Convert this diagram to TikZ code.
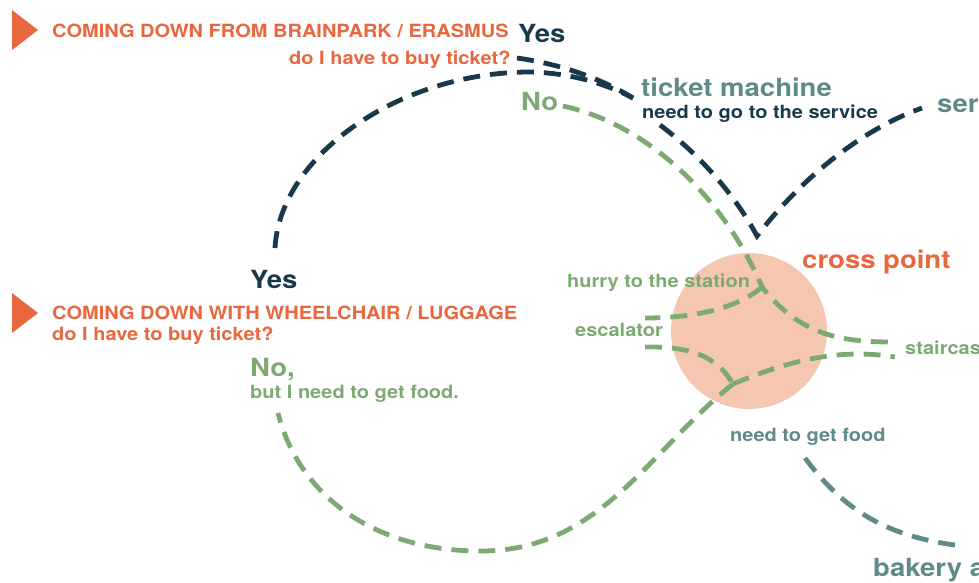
\documentclass[tikz,border=0pt]{standalone}
\usepackage{fontspec}
\setmainfont{TeX Gyre Heros}[FakeStretch=1.1]
\definecolor{corange}{HTML}{E9673F}
\definecolor{cnavy}{HTML}{17394A}
\definecolor{cgreen}{HTML}{7DAA72}
\definecolor{cteal}{HTML}{5E8B89}
\definecolor{csalmon}{HTML}{F6C7B0}
\begin{document}
\begin{tikzpicture}[x=1pt,y=-1pt,
  small/.style={inner sep=0pt, anchor=base west, font=\bfseries\fontsize{18.2}{21}\selectfont},
  big/.style={inner sep=0pt, anchor=base west, font=\bfseries\fontsize{25}{28}\selectfont},
  dl/.style={line width=4.8pt, dash pattern=on 17pt off 10pt},
  navyline/.style={dl, draw=cnavy},
  greenline/.style={dl, draw=cgreen},
  tealline/.style={dl, draw=cteal},
  tri/.style={fill=corange}]
\useasboundingbox (0,0) rectangle (979,582);
\clip (0,0) rectangle (979,582);

% cross point circle
\node[circle, fill=csalmon, minimum size=156pt, inner sep=0pt] (cp) at (749,331) {};

% triangles
\fill[tri] (12,10) -- (38,30) -- (12,50) -- cycle;
\fill[tri] (12,293) -- (38,313) -- (12,333) -- cycle;

% texts
\node[small, text=corange] (h1) at (52,37) {COMING DOWN FROM BRAINPARK / ERASMUS};
\node[big, text=cnavy] (yes1) at (518,42) {Yes};
\node[small, text=corange] (q1) at (289,64) {do I have to buy ticket?};
\node[big, text=cteal] (tm) at (641,96) {ticket machine};
\node[small, text=cnavy] (ns) at (642,118) {need to go to the service};
\node[big, text=cgreen] (no1) at (521,110) {No};
\node[big, text=cteal] (ser) at (937,112) {ser};
\node[big, text=cnavy] (yes2) at (250,288) {Yes};
\node[small, text=corange] (h2) at (52,319) {COMING DOWN WITH WHEELCHAIR / LUGGAGE};
\node[small, text=corange] (q2) at (52,340) {do I have to buy ticket?};
\node[big, text=cgreen] (no2) at (250,376) {No,};
\node[small, text=cgreen] (food) at (250,398) {but I need to get food.};
\node[big, text=corange] (cpt) at (802,268) {cross point};
\node[small, text=cgreen] (hurry) at (567,287) {hurry to the station};
\node[small, text=cgreen] (esc) at (575,336) {escalator};
\node[small, text=cgreen] (stair) at (905,354) {staircas};
\node[small, text=cteal] (ngf) at (730,441) {need to get food};
\node[big, text=cteal] (bak) at (873,576) {bakery a};

% junction coordinates
\coordinate (arcstart) at (275,248);
\coordinate (arctop) at (530,72);
\coordinate (tmend) at (633,98);
\coordinate (qend) at (517,58);
\coordinate (vstart) at (660,125);
\coordinate (vtip) at (757,236);
\coordinate (vend) at (922,108);
\coordinate (nostart) at (563,106);
\coordinate (j1) at (762,287);
\coordinate (j2) at (733,384);
\coordinate (st1) at (893,342);
\coordinate (st2) at (895,357);
\coordinate (escA) at (645,318);
\coordinate (escB) at (645,347);
\coordinate (foodstart) at (278,413);
\coordinate (ngfstart) at (805,458);
\coordinate (bakend) at (955,545);

% navy lines
\draw[navyline] (arcstart) .. controls (280,155) and (400,72) .. (arctop)
                .. controls (575,73) and (610,86) .. (tmend);
\draw[navyline] (qend) .. controls (560,64) and (600,78) .. (tmend);
\draw[navyline] (vstart) .. controls (700,155) and (735,195) .. (vtip)
                .. controls (800,180) and (860,130) .. (vend);

% green lines
\draw[greenline] (nostart) .. controls (650,125) and (725,200) .. (j1)
                 .. controls (800,335) and (840,342) .. (st1);
\draw[greenline] (j1) .. controls (735,310) and (690,318) .. (escA);
\draw[greenline] (escB) .. controls (700,346) and (720,362) .. (j2);
\draw[greenline] (j2) .. controls (790,360) and (840,348) .. (st2);
\draw[greenline] (j2) .. controls (650,450) and (600,550) .. (483,551)
                 .. controls (380,552) and (300,500) .. (foodstart);

% teal line
\draw[tealline] (ngfstart) .. controls (840,505) and (880,535) .. (bakend);
\end{tikzpicture}
\end{document}
